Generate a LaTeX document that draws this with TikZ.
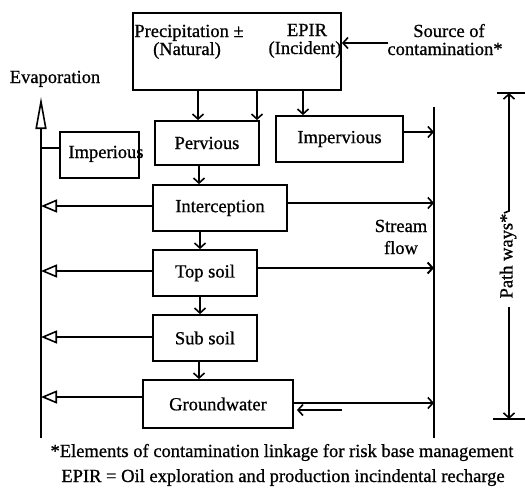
\documentclass[tikz,border=0pt]{standalone}
\usepackage{fontspec}
\setmainfont{Liberation Serif}[FakeBold=0.8]
\usetikzlibrary{arrows.meta}
\begin{document}
\begin{tikzpicture}[x=1pt,y=-1pt,
  font=\fontsize{18.5}{20}\selectfont,
  box/.style={draw, line width=1.8pt, inner sep=0pt},
  ln/.style={line width=1.6pt},
  arr/.style={ln, -{Straight Barb[length=5pt,width=11pt]}},
  evap/.style={ln, -{Triangle[open,length=16pt,width=13pt,fill=white]}},
  txt/.style={inner sep=0pt, anchor=base}]
\useasboundingbox (0,0) rectangle (525,488);

% boxes
\node[box, minimum width=208pt, minimum height=77pt] (src) at (237,51.5) {};
\node[box, minimum width=104pt, minimum height=44pt] (perv) at (207,143) {Pervious};
\node[box, minimum width=127pt, minimum height=46pt] (imperv) at (339.5,139) {Impervious};
\node[box, minimum width=79pt, minimum height=46pt] (imp) at (99.5,155) {};
\node[box, minimum width=134pt, minimum height=46pt] (inter) at (220,208) {Interception};
\node[box, minimum width=104pt, minimum height=46pt] (top) at (205,273) {Top soil};
\node[box, minimum width=104pt, minimum height=46pt] (sub) at (205,338) {Sub soil};
\node[box, minimum width=150pt, minimum height=48pt] (gw) at (218,404) {Groundwater};

% texts
\node[txt] (prec) at (189,37) {Precipitation ±};
\node[txt] (nat) at (187,55) {(Natural)};
\node[txt] (epir) at (307,36) {EPIR};
\node[txt] (inc) at (305,54) {(Incident)};
\node[txt] (so) at (449,37) {Source of};
\node[txt] (cont) at (445,55) {contamination*};
\node[txt] (evt) at (55,83) {Evaporation};
\node[txt] (impt) at (106,158) {Imperious};
\node[txt] (str) at (401,232) {Stream};
\node[txt] (flw) at (401,254) {flow};
\node[txt] (note1) at (282,457) {*Elements of contamination linkage for risk base management};
\node[txt] (note2) at (283,482) {EPIR = Oil exploration and production incindental recharge};
\node[inner sep=0pt, rotate=90] (pw) at (508,256) {Path ways*};

% side lines
\coordinate (lt) at (41,97);
\coordinate (lb) at (41,438);
\coordinate (rt) at (434,107);
\coordinate (rb) at (434,438);
\draw[ln, -{Triangle[open,length=32pt,width=11pt,fill=white]}] (lb) -- (lt);
\draw[ln] (rt) -- (rb);

% source of contamination
\coordinate (srcs) at (388,43);
\draw[arr] (srcs) -- (srcs -| src.east);

% from top box
\draw[arr] ([xshift=-39pt]src.south) -- ([xshift=-39pt]src.south |- perv.north);
\draw[arr] ([xshift=20pt]src.south) -- ([xshift=20pt]src.south |- perv.north);
\draw[arr] ([xshift=66pt]src.south) -- ([xshift=66pt]src.south |- imperv.north);

% impervious to stream
\draw[arr] ([yshift=7pt]imperv.east) -- ([yshift=7pt]imperv.east -| rt);
% imperious to evaporation line
\draw[ln] ([yshift=7pt]imp.west) -- ([yshift=7pt]imp.west -| lt);

% vertical chain
\draw[arr] ([xshift=-8pt]perv.south) -- ([xshift=-8pt]perv.south |- inter.north);
\draw[arr] ([xshift=-20pt]inter.south) -- ([xshift=-20pt]inter.south |- top.north);
\draw[arr] ([xshift=-5pt]top.south) -- ([xshift=-5pt]top.south |- sub.north);
\draw[arr] ([xshift=-6pt]sub.south) -- ([xshift=-6pt]sub.south |- gw.north);

% evaporation arrows
\draw[evap] ([yshift=2pt]inter.west) -- ([yshift=2pt]inter.west -| lt);
\draw[evap] ([yshift=2pt]top.west) -- ([yshift=2pt]top.west -| lt);
\draw[evap] ([yshift=1pt]sub.west) -- ([yshift=1pt]sub.west -| lt);
\draw[evap] ([yshift=7pt]gw.west) -- ([yshift=7pt]gw.west -| lt);

% stream flow arrows
\draw[arr] ([yshift=5pt]inter.east) -- ([yshift=5pt]inter.east -| rt);
\draw[arr, line width=2pt] ([yshift=5pt]top.east) -- ([yshift=5pt]top.east -| rt);
\draw[arr] ([yshift=1pt]gw.east) -- ([yshift=1pt]gw.east -| rt);
\coordinate (ret) at (342,410);
\draw[arr, shorten >=3pt] (ret) -- (ret -| gw.east);

% path ways
\coordinate (pwt) at (509,93);
\coordinate (pwb) at (509,419);
\coordinate (pwm) at (509,211);
\coordinate (pwl) at (509,307);
\draw[ln] (497,93) -- (525,93);
\draw[ln] (493,419) -- (525,419);
\draw[arr] (504,213) -- (pwm) -- (pwt);
\draw[arr] (pwl) -- (pwb);
\end{tikzpicture}
\end{document}
